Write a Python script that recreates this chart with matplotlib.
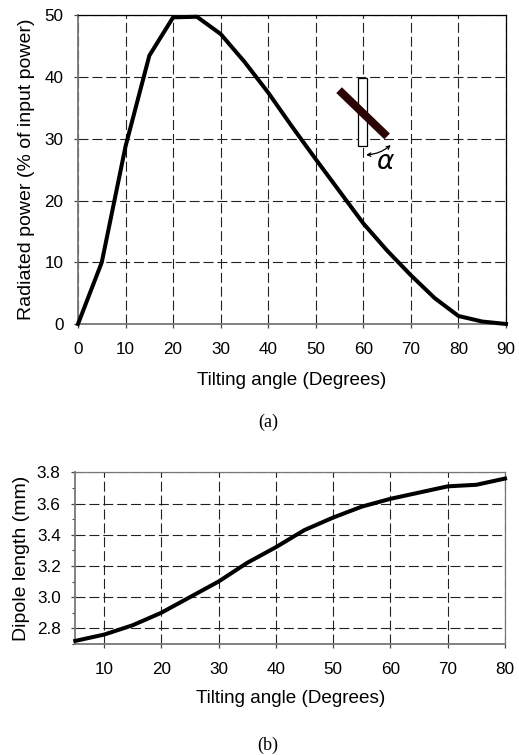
import numpy as np
import matplotlib
matplotlib.use("Agg")
import matplotlib.pyplot as plt
from matplotlib.patches import Rectangle, FancyArrowPatch

plt.rcParams['font.family'] = ['Liberation Sans', 'DejaVu Sans']

# Data
angle_a = [0, 5, 10, 15, 20, 25, 30, 35, 40, 45, 50, 55, 60, 65, 70, 75, 80, 85, 90]
power_a = [0, 10, 28.8, 43.5, 49.7, 49.8, 47, 42.5, 37.5, 32, 26.7, 21.5, 16.3, 11.9, 7.9, 4.2, 1.3, 0.4, 0]
angle_b = [5, 10, 15, 20, 25, 30, 35, 40, 45, 50, 55, 60, 65, 70, 75, 80]
length_b = [2.72, 2.76, 2.82, 2.90, 3.00, 3.10, 3.22, 3.32, 3.43, 3.51, 3.58, 3.63, 3.67, 3.71, 3.72, 3.76]
ticks_a_x = np.arange(0, 91, 10)
ticks_a_y = np.arange(0, 51, 10)
ticks_b_x = np.arange(10, 81, 10)
ticks_b_y = [2.8, 3.0, 3.2, 3.4, 3.6, 3.8]

W, H = 519, 755
fig = plt.figure(figsize=(W / 100, H / 100), dpi=100)

def box(l, t, r, b):
    return [l / W, 1 - b / H, (r - l) / W, (b - t) / H]

def style(ax, frame):
    ax.grid(True, color='#222222', linestyle=(0, (9, 3.5)), linewidth=0.8)
    ax.set_axisbelow(True)
    for s in ['top', 'right']:
        ax.spines[s].set_color(frame)
        ax.spines[s].set_linewidth(0.9)
    for s in ['left', 'bottom']:
        ax.spines[s].set_color('#777777')
        ax.spines[s].set_linewidth(1.3)
    ax.tick_params(axis='both', labelsize=12.3, length=3, width=0.9, color='#444444')
    ax.tick_params(axis='x', pad=10)
    ax.tick_params(axis='y', pad=7.5)

ax1 = fig.add_axes(box(78, 15.5, 506, 324))
ax1.plot(angle_a, power_a, color='black', lw=2.9, clip_on=False, zorder=5)
ax1.set_xlim(0, 90)
ax1.set_ylim(0, 50)
ax1.set_xticks(ticks_a_x)
ax1.set_yticks(ticks_a_y)
style(ax1, 'black')
ax1.set_xlabel('Tilting angle (Degrees)', fontsize=13.6, labelpad=11)
ax1.set_ylabel('Radiated power (% of input power)', fontsize=14, labelpad=7)

# dipole inset
ax1.add_patch(Rectangle((58.9, 28.85), 1.9, 11.05, fc='white', ec='black', lw=0.9, zorder=6))
ax1.plot([54.9, 65], [37.9, 30.4], color='#2b0505', lw=5.8, solid_capstyle='butt', zorder=7)
ax1.add_patch(FancyArrowPatch((60, 27.4), (66.2, 29.3), connectionstyle='arc3,rad=0.2',
                              arrowstyle='<->', mutation_scale=6, lw=0.9, color='black', zorder=7))
ax1.text(64.5, 26.3, 'α', fontsize=19, style='italic', ha='center', va='center',
         family='DejaVu Sans', zorder=7)

ax2 = fig.add_axes(box(75.3, 472.3, 505, 644))
ax2.plot(angle_b, length_b, color='black', lw=2.9, clip_on=False, zorder=5)
ax2.set_xlim(5, 80)
ax2.set_ylim(2.7, 3.8)
ax2.set_xticks(ticks_b_x)
ax2.set_yticks(ticks_b_y)
ax2.set_yticks(np.arange(2.7, 3.8, 0.2), minor=True)
style(ax2, '#777777')
ax2.tick_params(axis='y', which='minor', length=2, width=0.8, color='#444444')
ax2.set_xlabel('Tilting angle (Degrees)', fontsize=13.6, labelpad=9)
ax2.set_ylabel('Dipole length (mm)', fontsize=14, labelpad=5)

fig.text(268 / W, 1 - 422 / H, '(a)', fontsize=13, family='Liberation Serif', ha='center', va='center')
fig.text(268 / W, 1 - 745 / H, '(b)', fontsize=13, family='Liberation Serif', ha='center', va='center')

fig.savefig('out.png', dpi=100)
